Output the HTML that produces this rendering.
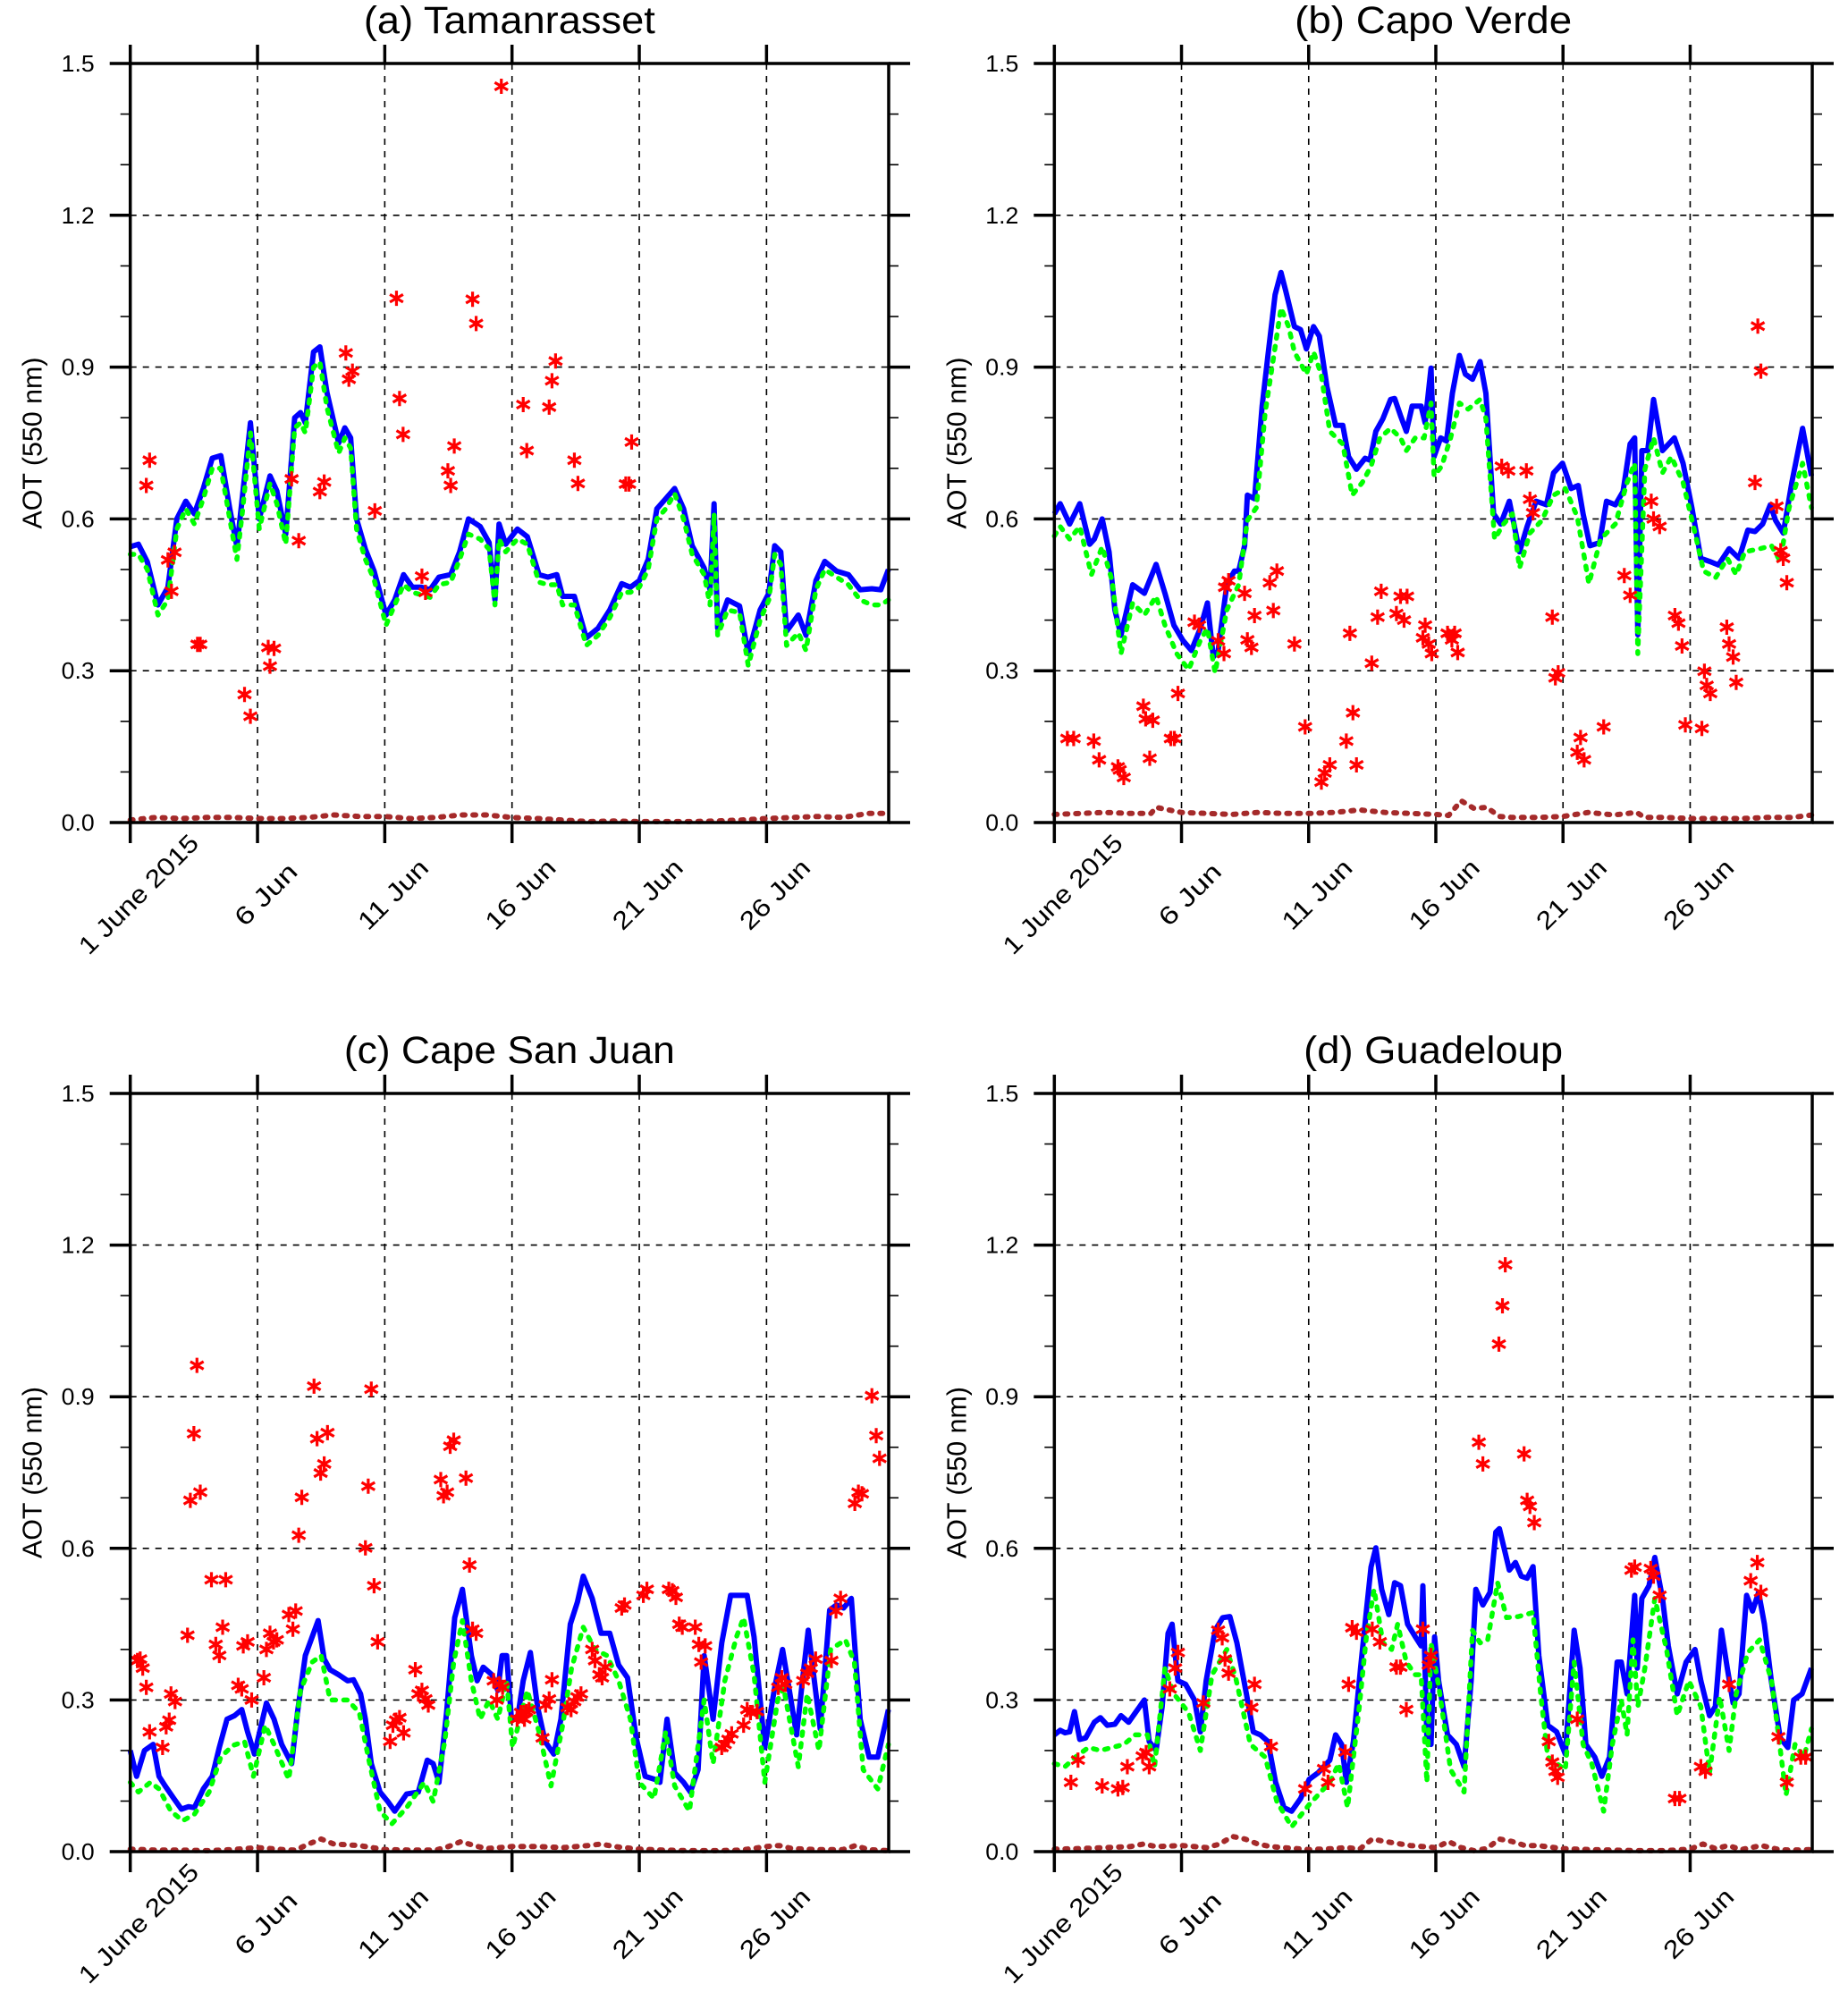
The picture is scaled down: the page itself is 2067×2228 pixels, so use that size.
<!DOCTYPE html>
<html><head><meta charset="utf-8">
<style>
html,body{margin:0;padding:0;background:#fff;}
svg{display:block;font-family:"Liberation Sans",Arial,sans-serif;}
</style></head>
<body>
<svg id="fig" width="2067" height="2228" viewBox="0 0 2067 2228" xmlns="http://www.w3.org/2000/svg"></svg>
<script>
// ---------- shared axis data ----------
const xTickDays = [0,5,10,15,20,25];
const xTickLabels = ["1 June 2015","6 Jun","11 Jun","16 Jun","21 Jun","26 Jun"];
const yTickVals = [0,0.3,0.6,0.9,1.2,1.5];
const yTickLabels = ["0.0","0.3","0.6","0.9","1.2","1.5"];
const yMinorVals = [0.1,0.2,0.4,0.5,0.7,0.8,1.0,1.1,1.3,1.4];
const panelTitles = ["(a) Tamanrasset","(b) Capo Verde","(c) Cape San Juan","(d) Guadeloup"];

// ---------- (a) Tamanrasset ----------
const aBlueT=[0,.32,.67,1.09,1.48,1.83,2.18,2.52,2.87,3.22,3.56,3.91,4.19,4.42,4.72,5.07,5.49,5.76,6.11,6.46,6.69,6.88,7.2,7.45,7.73,8.19,8.43,8.66,8.89,9.24,9.58,10.05,10.39,10.74,11.09,11.44,11.78,12.13,12.59,12.94,13.29,13.75,14.1,14.33,14.49,14.75,15.21,15.6,16.06,16.41,16.76,16.99,17.45,17.92,18.38,18.84,19.31,19.65,20.0,20.35,20.69,21.04,21.39,21.74,22.08,22.55,22.78,22.94,23.08,23.47,23.94,24.28,24.75,25.09,25.32,25.56,25.79,26.25,26.55,26.94,27.29,27.75,28.22,28.68,29.14,29.49,29.79];
const aBlueV=[.545,.55,.515,.43,.465,.60,.635,.61,.66,.72,.725,.62,.545,.65,.79,.60,.685,.655,.57,.80,.81,.79,.93,.94,.85,.75,.78,.76,.60,.54,.497,.41,.44,.49,.465,.465,.46,.485,.49,.535,.60,.585,.553,.44,.59,.55,.58,.565,.49,.485,.49,.447,.447,.365,.384,.42,.472,.465,.478,.52,.62,.64,.66,.62,.547,.503,.46,.63,.384,.44,.428,.334,.42,.453,.547,.535,.378,.41,.37,.478,.516,.497,.49,.46,.462,.46,.50];
const aGreenT=aBlueT;
const aGreenV=[.53,.53,.50,.41,.44,.58,.62,.59,.64,.70,.70,.60,.52,.62,.77,.58,.67,.63,.55,.78,.79,.77,.90,.91,.82,.73,.76,.74,.58,.52,.48,.39,.43,.47,.455,.45,.445,.47,.475,.52,.57,.56,.54,.43,.56,.535,.56,.55,.475,.47,.47,.43,.43,.35,.37,.405,.455,.455,.465,.50,.60,.62,.65,.60,.53,.49,.43,.61,.37,.42,.415,.31,.40,.44,.53,.51,.35,.375,.34,.46,.50,.485,.47,.44,.43,.43,.44];
const aBrownT=[0,1,2,3,4,5,6,7,8,9,10,11,12,13,14,15,16,17,18,19,20,21,22,23,24,25,26,27,28,29,29.8];
const aBrownV=[.005,.01,.008,.01,.01,.008,.008,.01,.015,.012,.012,.008,.01,.015,.015,.01,.008,.005,.002,.003,.002,.002,.002,.003,.005,.008,.01,.012,.01,.018,.018];
const aObsT=[.63,.76,1.48,1.74,1.62,2.64,2.75,4.49,4.72,5.42,5.65,5.49,6.34,6.62,7.45,7.62,8.47,8.59,8.73,9.61,10.46,10.58,10.72,11.46,11.6,12.48,12.59,12.73,13.45,13.59,14.58,15.44,15.58,16.46,16.57,16.71,17.45,17.59,19.47,19.6,19.7];
const aObsV=[.666,.716,.519,.534,.457,.352,.352,.253,.21,.346,.344,.309,.679,.557,.654,.673,.928,.876,.892,.616,1.036,.838,.767,.487,.455,.695,.666,.744,1.034,.986,1.455,.826,.735,.821,.873,.912,.716,.67,.669,.669,.752];

// ---------- (b) Capo Verde ----------
const bBlueT=[0,.23,.6,1.0,1.39,1.57,1.88,2.15,2.38,2.62,3.08,3.54,4.0,4.35,4.7,5.05,5.39,5.74,6.02,6.25,6.44,6.78,7.08,7.25,7.48,7.59,7.87,8.17,8.4,8.68,8.91,9.1,9.44,9.68,9.91,10.19,10.42,10.72,11.06,11.34,11.57,11.88,12.22,12.41,12.64,12.92,13.22,13.38,13.61,13.84,14.07,14.42,14.58,14.81,14.93,15.19,15.42,15.65,15.93,16.16,16.44,16.74,16.97,17.27,17.55,17.89,18.29,18.59,18.94,19.35,19.63,19.98,20.32,20.6,20.79,21.06,21.44,21.71,22.06,22.36,22.64,22.82,22.94,23.1,23.33,23.56,23.91,24.38,24.72,25.07,25.42,25.76,26.11,26.53,26.92,27.27,27.55,27.85,28.15,28.36,28.66,29.0,29.42,29.77];
const bBlueV=[.61,.63,.59,.63,.55,.56,.60,.535,.42,.37,.47,.453,.51,.453,.39,.36,.34,.384,.434,.327,.34,.47,.497,.497,.547,.647,.64,.823,.923,1.043,1.087,1.05,.98,.974,.936,.98,.961,.861,.785,.785,.723,.698,.72,.716,.773,.798,.836,.838,.804,.773,.823,.823,.79,.898,.723,.76,.754,.848,.923,.886,.876,.911,.848,.61,.59,.635,.535,.585,.635,.628,.691,.71,.66,.666,.61,.547,.553,.635,.628,.654,.748,.76,.371,.735,.735,.836,.735,.76,.71,.622,.522,.516,.509,.541,.522,.578,.575,.59,.628,.597,.572,.672,.779,.685];
const bGreenT=[0,.23,.6,1.0,1.46,1.88,2.27,2.62,3.08,3.54,4.0,4.35,4.81,5.28,5.74,6.02,6.32,6.78,7.25,7.59,7.94,8.29,8.63,8.91,9.21,9.44,9.91,10.19,10.49,10.83,11.34,11.71,12.11,12.45,12.8,13.22,13.61,13.84,14.19,14.54,14.81,14.93,15.23,15.58,15.93,16.27,16.74,16.97,17.31,17.66,18.01,18.29,18.7,19.17,19.63,20.09,20.56,21.02,21.48,22.06,22.52,22.82,22.94,23.22,23.56,23.91,24.26,24.72,25.19,25.53,26.0,26.46,26.81,27.15,27.73,28.2,28.54,28.89,29.42,29.77];
const bGreenV=[.566,.585,.56,.585,.49,.545,.478,.334,.434,.41,.447,.39,.334,.302,.36,.384,.296,.42,.47,.597,.622,.81,.923,1.017,.98,.93,.886,.93,.886,.773,.748,.647,.672,.704,.76,.779,.76,.735,.76,.76,.829,.685,.704,.76,.829,.817,.836,.798,.56,.59,.61,.503,.572,.597,.647,.66,.604,.472,.56,.59,.672,.71,.334,.698,.76,.691,.723,.672,.572,.497,.484,.522,.49,.535,.541,.547,.516,.622,.71,.622];
const bBrownT=[0,1,2,3,3.8,4,4.5,5,6,7,8,9,10,11,12,13,14,15,15.5,16,16.5,17,17.5,18,19,20,21,22,22.9,23.2,24,25,26,27,28,29,29.8];
const bBrownV=[.016,.018,.02,.018,.018,.03,.025,.02,.018,.016,.02,.018,.018,.02,.025,.02,.018,.016,.014,.043,.028,.03,.012,.01,.01,.012,.02,.015,.02,.01,.01,.008,.008,.008,.01,.01,.015];
const bObsT=[.51,.76,1.55,1.76,2.5,2.73,2.57,3.5,3.59,3.87,3.75,4.58,4.72,4.86,5.51,5.69,6.44,6.67,6.71,6.85,7.48,7.59,7.75,7.87,8.47,8.75,8.61,9.44,9.86,10.5,10.63,10.83,11.62,11.48,11.74,11.88,12.48,12.71,12.85,13.45,13.61,13.75,13.87,14.58,14.49,14.72,14.84,15.46,15.63,15.74,15.86,17.59,17.85,18.56,18.7,18.82,19.58,19.7,19.81,20.56,20.69,20.83,21.6,22.41,22.64,23.47,23.56,23.8,24.4,24.54,24.68,24.81,25.46,25.56,25.65,25.79,26.44,26.53,26.69,26.81,27.55,27.66,27.78,28.4,28.56,28.66,28.8];
const bObsV=[.166,.166,.161,.124,.11,.089,.104,.23,.205,.202,.127,.166,.166,.255,.396,.39,.359,.334,.465,.478,.453,.361,.346,.409,.474,.497,.419,.353,.189,.08,.098,.114,.374,.161,.217,.114,.315,.406,.457,.413,.447,.4,.447,.39,.365,.353,.334,.374,.361,.374,.336,.704,.695,.695,.639,.612,.406,.286,.296,.139,.168,.124,.189,.488,.449,.635,.6,.585,.409,.394,.349,.193,.186,.299,.271,.255,.386,.353,.327,.277,.672,.981,.892,.625,.537,.522,.474];

// ---------- (c) Cape San Juan ----------
const cBlueT=[0,.25,.56,.9,1.13,1.37,1.71,2.01,2.29,2.52,2.87,3.22,3.5,3.8,4.1,4.38,4.61,4.88,5.35,5.65,5.95,6.34,6.57,6.88,7.15,7.38,7.62,7.85,8.19,8.54,8.77,9.05,9.24,9.47,9.81,10.12,10.39,10.86,11.32,11.67,11.9,12.13,12.43,12.75,13.05,13.4,13.63,13.87,14.21,14.44,14.61,14.79,14.98,15.21,15.44,15.72,16.0,16.3,16.64,16.92,17.29,17.57,17.8,18.15,18.5,18.84,19.19,19.54,19.88,20.23,20.62,20.81,21.09,21.39,21.74,22.01,22.31,22.55,22.9,23.24,23.59,23.94,24.24,24.51,24.93,25.32,25.63,25.86,26.18,26.41,26.64,27.11,27.48,27.75,28.03,28.33,28.68,29.03,29.37,29.79];
const cBlueV=[.2,.149,.2,.212,.149,.13,.105,.084,.089,.087,.124,.149,.206,.262,.269,.281,.237,.193,.294,.262,.212,.174,.275,.388,.425,.457,.381,.36,.35,.338,.34,.312,.262,.174,.118,.099,.08,.114,.118,.181,.174,.137,.275,.463,.519,.388,.338,.365,.35,.319,.388,.388,.262,.262,.338,.394,.287,.218,.193,.262,.45,.494,.545,.501,.432,.432,.369,.344,.225,.149,.143,.137,.262,.156,.137,.118,.162,.388,.262,.413,.507,.507,.507,.425,.206,.325,.4,.331,.231,.338,.438,.243,.478,.488,.482,.501,.262,.187,.187,.281];
const cGreenT=[0,.32,.79,1.13,1.6,2.06,2.52,3.1,3.56,4.03,4.49,4.84,5.3,5.65,6.23,6.69,7.15,7.5,7.85,8.54,9.0,9.35,9.81,10.28,10.86,11.55,11.9,12.36,12.71,13.05,13.4,13.75,14.1,14.44,14.79,15.02,15.25,15.6,16.06,16.53,16.99,17.34,17.8,18.26,18.73,19.19,19.65,20.0,20.58,21.04,21.39,21.97,22.55,22.9,23.36,23.82,24.1,24.51,24.93,25.44,25.67,26.25,26.6,27.06,27.52,28.1,28.45,28.8,29.37,29.79];
const cGreenV=[.137,.118,.137,.124,.08,.061,.074,.118,.187,.21,.218,.149,.25,.212,.143,.319,.375,.388,.3,.3,.275,.187,.08,.055,.087,.137,.099,.218,.375,.457,.338,.262,.3,.262,.338,.206,.25,.319,.237,.13,.25,.363,.444,.4,.388,.338,.262,.137,.105,.237,.13,.08,.3,.174,.338,.425,.463,.35,.137,.3,.325,.168,.312,.2,.4,.419,.375,.162,.124,.212];
const cBrownT=[0,1,2,3,4,5,6,6.5,7,7.5,8,9,10,11,12,12.5,13,13.5,14,15,16,17,18,18.5,19,20,21,22,23,24,25,25.5,26,27,28,28.5,29,29.8];
const cBrownV=[.005,.003,.003,.002,.004,.008,.004,.003,.015,.025,.015,.012,.004,.003,.003,.01,.02,.012,.006,.01,.01,.008,.012,.015,.01,.005,.003,.002,.002,.003,.01,.012,.006,.004,.004,.012,.004,.002];
const cObsT=[.28,.39,.49,.63,.76,1.27,1.41,1.53,1.6,1.76,2.25,2.36,2.5,2.62,2.75,3.19,3.75,3.36,3.5,3.63,4.24,4.38,4.44,4.61,4.77,5.25,5.35,5.49,5.63,5.76,6.23,6.39,6.5,6.62,6.74,7.22,7.34,7.48,7.62,7.75,9.24,9.35,9.47,9.58,9.72,10.21,10.32,10.44,10.58,10.74,11.2,11.32,11.46,11.6,11.71,12.2,12.31,12.45,12.57,12.71,13.19,13.33,13.45,13.59,14.28,14.4,14.51,14.63,15.2,15.35,15.49,15.56,15.67,16.2,16.32,16.46,16.57,17.18,17.32,17.45,17.57,17.71,18.15,18.26,18.43,18.54,18.66,19.31,19.42,20.16,20.3,21.16,21.3,21.44,21.57,21.69,22.2,22.34,22.43,22.59,23.24,23.36,23.5,23.63,24.1,24.24,24.37,24.63,25.46,25.6,25.74,26.44,26.6,26.74,26.93,27.55,27.73,27.91,28.47,28.61,28.75,29.14,29.31,29.44];
const cObsV=[.378,.381,.363,.325,.237,.206,.247,.26,.312,.297,.428,.695,.827,.962,.711,.538,.538,.41,.388,.444,.329,.322,.407,.415,.3,.344,.4,.432,.415,.419,.469,.44,.476,.626,.701,.921,.817,.749,.767,.829,.601,.723,.915,.526,.415,.218,.25,.26,.265,.235,.36,.312,.319,.302,.29,.736,.704,.711,.802,.814,.739,.567,.44,.432,.338,.3,.331,.325,.262,.275,.262,.277,.281,.225,.29,.302,.34,.285,.281,.297,.306,.312,.4,.378,.35,.344,.365,.482,.488,.507,.519,.519,.516,.503,.45,.444,.444,.41,.375,.407,.206,.212,.222,.233,.25,.281,.275,.277,.325,.344,.331,.338,.353,.363,.381,.378,.476,.501,.689,.711,.708,.902,.823,.778];

// ---------- (d) Guadeloup ----------
const dBlueT=[0,.23,.42,.6,.79,1.0,1.23,1.57,1.81,2.08,2.38,2.62,2.92,3.19,3.54,3.73,4.0,4.24,4.47,4.63,4.86,5.16,5.51,5.74,5.97,6.32,6.62,6.9,7.18,7.55,7.82,8.1,8.4,8.7,9.03,9.33,9.68,10.02,10.37,10.83,11.06,11.3,11.48,11.76,12.04,12.27,12.45,12.64,12.87,13.15,13.38,13.61,13.89,14.19,14.42,14.49,14.65,14.81,14.95,15.11,15.46,15.81,16.11,16.39,16.57,16.85,17.13,17.36,17.5,17.89,18.13,18.36,18.59,18.82,19.05,19.4,19.75,20.09,20.44,20.67,20.9,21.25,21.53,21.83,22.13,22.29,22.52,22.82,22.92,23.1,23.38,23.61,23.91,24.14,24.49,24.84,25.19,25.42,25.76,25.99,26.23,26.46,26.69,26.92,27.22,27.45,27.69,27.92,28.19,28.54,28.84,29.07,29.4,29.77];
const dBlueV=[.231,.24,.235,.237,.277,.222,.225,.256,.265,.25,.252,.269,.256,.275,.3,.218,.2,.287,.432,.45,.338,.331,.3,.237,.338,.438,.463,.465,.413,.312,.237,.231,.218,.137,.087,.08,.105,.143,.156,.181,.231,.212,.137,.218,.363,.476,.563,.601,.519,.469,.532,.526,.45,.425,.407,.526,.225,.212,.425,.338,.231,.212,.168,.338,.519,.488,.513,.632,.639,.557,.572,.545,.541,.564,.388,.25,.237,.193,.438,.363,.212,.187,.149,.187,.375,.375,.312,.507,.363,.501,.526,.582,.501,.407,.312,.375,.4,.338,.269,.287,.438,.363,.294,.312,.507,.476,.513,.45,.338,.225,.206,.3,.312,.363];
const dGreenT=[0,.42,.83,1.34,1.81,2.27,2.73,3.19,3.66,3.94,4.35,4.7,5.28,5.74,6.2,6.78,7.13,7.71,8.29,8.75,9.33,10.02,10.83,11.18,11.53,11.99,12.27,12.57,12.92,13.26,13.5,13.84,14.19,14.42,14.65,14.81,15.12,15.58,16.11,16.44,16.74,17.04,17.43,17.78,18.24,18.82,19.12,19.4,19.75,20.09,20.44,20.79,21.13,21.6,21.94,22.29,22.52,22.75,22.94,23.22,23.61,24.07,24.49,24.95,25.42,25.76,26.16,26.53,26.81,27.27,27.73,28.2,28.77,29.12,29.47,29.77];
const dGreenV=[.174,.168,.187,.206,.2,.206,.212,.231,.231,.168,.363,.312,.275,.2,.35,.4,.344,.212,.187,.099,.049,.093,.137,.174,.087,.287,.425,.519,.413,.4,.45,.375,.35,.35,.137,.413,.325,.162,.118,.438,.413,.419,.532,.463,.465,.473,.312,.187,.174,.162,.375,.212,.174,.08,.212,.3,.231,.419,.287,.363,.501,.4,.269,.338,.287,.156,.306,.2,.312,.394,.419,.338,.112,.212,.187,.243];
const dBrownT=[0,1,2,3,3.5,4,5,5.5,6,6.5,7,7.5,8,8.5,9,10,11,11.5,12,12.5,13,14,15,15.5,16,16.5,17,17.5,18,18.5,19,20,21,22,23,24,25,25.5,26,26.5,27,27.8,28.5,29,29.8];
const dBrownV=[.005,.006,.008,.01,.015,.01,.012,.01,.008,.015,.03,.025,.015,.01,.008,.004,.006,.008,.005,.025,.02,.012,.008,.02,.008,.002,.006,.025,.02,.012,.012,.006,.004,.003,.002,.002,.005,.015,.006,.012,.004,.012,.004,.003,.004];
const dObsT=[.65,.93,1.88,2.5,2.69,2.87,3.47,3.61,3.73,4.54,4.75,4.86,5.86,6.44,6.6,6.71,6.85,7.75,7.87,8.52,9.86,10.6,10.76,11.44,11.57,11.71,11.88,12.5,12.8,13.45,13.61,13.84,14.49,14.72,14.81,16.69,16.85,17.48,17.62,17.73,18.47,18.59,18.7,18.87,19.44,19.58,19.7,19.79,20.56,22.69,22.82,23.45,23.56,23.8,24.4,24.58,25.42,25.6,26.53,27.38,27.64,27.78,28.47,28.8,29.35,29.54];
const dObsV=[.137,.181,.13,.124,.127,.168,.189,.196,.168,.322,.363,.394,.294,.438,.423,.381,.353,.285,.331,.208,.124,.164,.137,.197,.331,.443,.434,.44,.415,.365,.365,.281,.44,.369,.388,.81,.767,1.004,1.08,1.161,.787,.695,.683,.651,.218,.177,.159,.147,.262,.557,.563,.56,.545,.507,.105,.105,.168,.159,.331,.536,.572,.513,.227,.137,.187,.187];

// ---------- layout ----------
const XMAX = 29.8, YMAX = 1.5;
const panels = [
  {name:"tamanrasset", x0:145.7, x1:994,  y0:71,   y1:920,  blue:[aBlueT,aBlueV], green:[aGreenT,aGreenV], brown:[aBrownT,aBrownV], obs:[aObsT,aObsV]},
  {name:"capo-verde",  x0:1179.3,x1:2027, y0:71,   y1:920,  blue:[bBlueT,bBlueV], green:[bGreenT,bGreenV], brown:[bBrownT,bBrownV], obs:[bObsT,bObsV]},
  {name:"cape-san-juan",x0:145.7,x1:994,  y0:1223, y1:2071, blue:[cBlueT,cBlueV], green:[cGreenT,cGreenV], brown:[cBrownT,cBrownV], obs:[cObsT,cObsV]},
  {name:"guadeloup",   x0:1179.3,x1:2027, y0:1223, y1:2071, blue:[dBlueT,dBlueV], green:[dGreenT,dGreenV], brown:[dBrownT,dBrownV], obs:[dObsT,dObsV]}
];
const NS = "http://www.w3.org/2000/svg";
const svg = document.getElementById('fig');
function mk(tag, attrs, parent){
  const e = document.createElementNS(NS, tag);
  for (const k in attrs) e.setAttribute(k, attrs[k]);
  parent.appendChild(e); return e;
}
panels.forEach((p, i) => {
  const xs = d => p.x0 + d / XMAX * (p.x1 - p.x0);
  const ys = v => p.y1 - v / YMAX * (p.y1 - p.y0);
  const g = mk('g', {}, svg);
  
  

  const grid = mk('g', {stroke:'#000','stroke-width':1.6,'stroke-dasharray':'7 7',fill:'none'}, g);
  
  
  yTickVals.forEach(v => { if (v > 0 && v < YMAX) mk('line', {x1:p.x0, x2:p.x1, y1:ys(v), y2:ys(v)}, grid); });
  xTickDays.forEach(d => { if (d > 0) mk('line', {x1:xs(d), x2:xs(d), y1:p.y0, y2:p.y1}, grid); });

  const line = (T, V, attrs, nm) => {
    const n = Math.min(T.length, V.length);
    let dstr = '';
    for (let k = 0; k < n; k++) dstr += (k ? 'L' : 'M') + xs(T[k]).toFixed(1) + ' ' + ys(V[k]).toFixed(1);
    const e = mk('path', Object.assign({d:dstr, fill:'none', 'stroke-linejoin':'round'}, attrs), g);
    
    
  };
  line(p.brown[0], p.brown[1], {stroke:'#a52a2a','stroke-width':6,'stroke-dasharray':'3 9','stroke-linecap':'round'}, 'brown-dotted-series');
  line(p.blue[0], p.blue[1], {stroke:'#0000ff','stroke-width':6}, 'blue-solid-series');
  line(p.green[0], p.green[1], {stroke:'#00ff00','stroke-width':5.5,'stroke-dasharray':'4 9','stroke-linecap':'round'}, 'green-dashed-series');

  const sg = mk('g', {stroke:'#ff0000','stroke-width':3.2,'stroke-linecap':'butt'}, g);
  
  
  const [OT, OV] = p.obs;
  for (let k = 0; k < Math.min(OT.length, OV.length); k++) {
    const cx = xs(OT[k]), cy = ys(OV[k]), r = 8.5;
    const st = mk('path', {d:`M${cx} ${cy-r}L${cx} ${cy+r}M${cx-r*0.87} ${cy-r*0.5}L${cx+r*0.87} ${cy+r*0.5}M${cx-r*0.87} ${cy+r*0.5}L${cx+r*0.87} ${cy-r*0.5}`}, sg);
    
    
  }

  const fr = mk('rect', {x:p.x0, y:p.y0, width:p.x1-p.x0, height:p.y1-p.y0, fill:'none', stroke:'#000','stroke-width':3.5}, g);
  
  

  const tk = mk('g', {stroke:'#000'}, g);
  
  
  yTickVals.forEach(v => {
    mk('line', {x1:p.x0-23, x2:p.x0, y1:ys(v), y2:ys(v), 'stroke-width':3.5}, tk);
    mk('line', {x1:p.x1, x2:p.x1+24, y1:ys(v), y2:ys(v), 'stroke-width':3.5}, tk);
  });
  yMinorVals.forEach(v => {
    mk('line', {x1:p.x0-11, x2:p.x0, y1:ys(v), y2:ys(v), 'stroke-width':1.6}, tk);
    mk('line', {x1:p.x1, x2:p.x1+11, y1:ys(v), y2:ys(v), 'stroke-width':1.6}, tk);
  });
  xTickDays.forEach(d => {
    mk('line', {x1:xs(d), x2:xs(d), y1:p.y0-21, y2:p.y0, 'stroke-width':3.5}, tk);
    mk('line', {x1:xs(d), x2:xs(d), y1:p.y1, y2:p.y1+23, 'stroke-width':3.5}, tk);
  });

  yTickVals.forEach((v, k) => {
    const t = mk('text', {x:p.x0-40, y:ys(v)+9, 'text-anchor':'end', 'font-size':26, textLength:37, lengthAdjust:'spacingAndGlyphs'}, g);
    t.textContent = yTickLabels[k];
    
    
  });
  xTickDays.forEach((d, k) => {
    const cx = xs(d) + 9, cy = p.y1 + 80;
    const len = k === 0 ? 176 : (k === 1 ? 86 : 98);
    const t = mk('text', {x:cx, y:cy+10, 'text-anchor':'middle', 'font-size':28, textLength:len, lengthAdjust:'spacingAndGlyphs', transform:`rotate(-45 ${cx} ${cy})`}, g);
    t.textContent = xTickLabels[k];
    
    
  });
  const yc = (p.y0 + p.y1) / 2, xc = p.x0 - 110;
  const yt = mk('text', {x:xc, y:yc+11, 'text-anchor':'middle', 'font-size':31, textLength:192, lengthAdjust:'spacingAndGlyphs', transform:`rotate(-90 ${xc} ${yc})`}, g);
  yt.textContent = 'AOT (550 nm)';
  
  
  const tt = mk('text', {x:(p.x0+p.x1)/2, y:p.y0-34, 'text-anchor':'middle', 'font-size':43, textLength:(i===2?370:(i===3?290:(i===1?310:326))), lengthAdjust:'spacingAndGlyphs'}, g);
  tt.textContent = panelTitles[i];
  
  
});
</script>
</body></html>
